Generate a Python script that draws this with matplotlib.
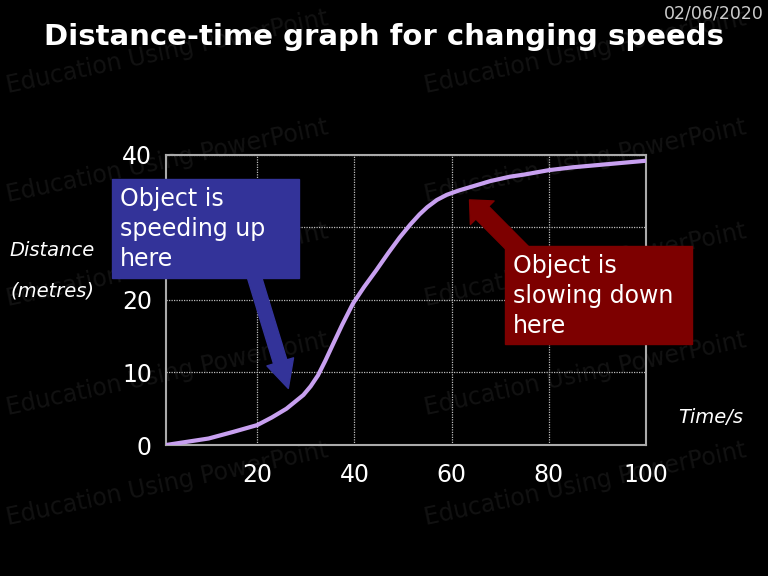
import matplotlib
matplotlib.use("Agg")
import matplotlib.pyplot as plt

# ------------------------------------------------------------
# data
# ------------------------------------------------------------
TIME = [1.2, 10, 15, 20, 23, 26, 29.5, 31, 32.5, 34, 35.6, 37.5, 39.7, 42, 44.5, 47,
        49.3, 51.5, 53.4, 55, 57, 59, 61.5, 64.5, 68, 72, 75, 80, 85, 90, 95, 100]
DIST = [0.0, 0.9, 1.8, 2.75, 3.8, 5.0, 6.9, 8.1, 9.6, 11.6, 13.9, 16.6, 19.5, 21.8, 24.1, 26.5,
        28.6, 30.4, 31.8, 32.8, 33.8, 34.5, 35.1, 35.7, 36.4, 37.0, 37.3, 37.9, 38.3, 38.6, 38.9, 39.2]

X_TICKS = [20, 40, 60, 80, 100]
Y_TICKS = [0, 10, 20, 30, 40]

TITLE = "Distance-time graph for changing speeds"
DATE = "02/06/2020"
SPEED_UP = "Object is\nspeeding up\nhere"
SLOW_DOWN = "Object is\nslowing down\nhere"
WATERMARK = "Education Using PowerPoint"

# ------------------------------------------------------------
# styling
# ------------------------------------------------------------
BG = "black"
CURVE_COLOR = "#c8a0f0"
BLUE_BOX = "#333399"
RED_BOX = "#7d0000"
GRID_COLOR = "#bbbbbb"
WM_COLOR = "#121212"
FONT = "DejaVu Sans"

fig = plt.figure(figsize=(7.68, 5.76), dpi=100, facecolor=BG)

# faint watermark tiles, kept behind everything
for fx in (0.005, 0.55):
    for fy in (0.83, 0.64, 0.46, 0.27, 0.08):
        fig.text(fx, fy, WATERMARK, color=WM_COLOR, fontsize=17, rotation=12,
                 ha="left", va="bottom", family=FONT, zorder=-1)

ax = fig.add_axes([0.216, 0.2274, 0.625, 0.5036])
ax.set_facecolor("none")
ax.plot(TIME, DIST, color=CURVE_COLOR, lw=3.0, solid_capstyle="round",
        solid_joinstyle="round", zorder=3)

ax.set_xlim(1.2, 100)
ax.set_ylim(0, 40)
ax.set_xticks(X_TICKS)
ax.set_yticks(Y_TICKS)
ax.grid(True, color=GRID_COLOR, ls=(0, (1, 1)), lw=0.9)
ax.tick_params(length=0, colors="white", labelsize=17)
ax.tick_params(axis="y", pad=10)
ax.tick_params(axis="x", pad=13)
for lab in ax.get_xticklabels() + ax.get_yticklabels():
    lab.set_family(FONT)
for sp in ax.spines.values():
    sp.set_color("#aaaaaa")
    sp.set_linewidth(1.5)

# axis labels
fig.text(0.068, 0.565, "Distance", color="white", fontsize=14, style="italic",
         ha="center", va="center", family=FONT)
fig.text(0.068, 0.495, "(metres)", color="white", fontsize=14, style="italic",
         ha="center", va="center", family=FONT)
fig.text(0.925, 0.276, "Time/s", color="white", fontsize=14, style="italic",
         ha="center", va="center", family=FONT)

# title and date
fig.text(0.5, 0.936, TITLE, color="white", fontsize=21, fontweight="bold",
         ha="center", va="center", family=FONT)
fig.text(0.994, 0.977, DATE, color="#cccccc", fontsize=12.5,
         ha="right", va="center", family=FONT)

# block arrows
ax.annotate("", xy=(26.4, 7.8), xytext=(18.9, 24.3),
            arrowprops=dict(arrowstyle="simple,head_length=20,head_width=20,tail_width=10",
                            mutation_scale=1, color=BLUE_BOX, shrinkA=0, shrinkB=0),
            zorder=4)
ax.annotate("", xy=(63.7, 33.8), xytext=(76, 25.5),
            arrowprops=dict(arrowstyle="simple,head_length=13,head_width=24,tail_width=13",
                            mutation_scale=1, color=RED_BOX, shrinkA=0, shrinkB=0),
            zorder=4, annotation_clip=False)

# text boxes
fig.patches.append(plt.Rectangle((112 / 768, 1 - 278 / 576), 187 / 768, 99 / 576,
                                 transform=fig.transFigure, color=BLUE_BOX, zorder=5))
fig.text(120 / 768, 1 - 229 / 576, SPEED_UP, color="white", fontsize=17,
         ha="left", va="center", linespacing=1.3, family=FONT, zorder=6)

fig.patches.append(plt.Rectangle((505 / 768, 1 - 344 / 576), 187 / 768, 98 / 576,
                                 transform=fig.transFigure, color=RED_BOX, zorder=5))
fig.text(513 / 768, 1 - 296 / 576, SLOW_DOWN, color="white", fontsize=17,
         ha="left", va="center", linespacing=1.3, family=FONT, zorder=6)

fig.savefig("out.png", dpi=100, facecolor=BG)
